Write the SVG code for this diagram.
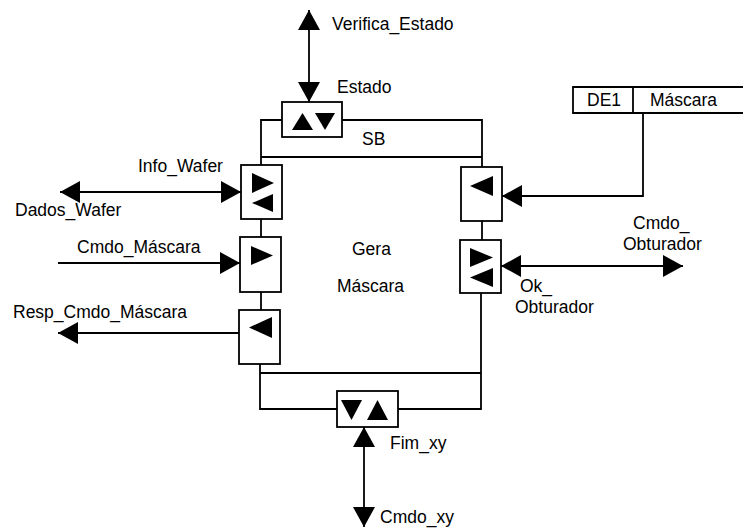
<svg xmlns="http://www.w3.org/2000/svg" width="743" height="529" viewBox="0 0 743 529">
<style>
  .ln{fill:none;stroke:#000;stroke-width:1.8}
  .bx{fill:#fff;stroke:#000;stroke-width:1.8}
  .tri{fill:#000}
  text{font-family:"Liberation Sans",Arial,sans-serif;font-size:17.5px;fill:#000}
</style>
<defs>
  <marker id="ah" viewBox="0 0 20 22" refX="20" refY="11" markerWidth="20" markerHeight="22" markerUnits="userSpaceOnUse" orient="auto-start-reverse">
    <path d="M0,0 L20,11 L0,22 z" fill="#000"/>
  </marker>
</defs>
<rect width="743" height="529" fill="#fff"/>

<g id="connectors">
  <polyline class="ln" points="261,165 261,120 282,120"/>
  <polyline class="ln" points="342,120 482,120 482,167"/>
  <line class="ln" x1="261" y1="157" x2="482" y2="157"/>
  <line class="ln" x1="261" y1="219" x2="261" y2="237"/>
  <line class="ln" x1="261" y1="292" x2="261" y2="310"/>
  <polyline class="ln" points="260,364 260,409 337,409"/>
  <line class="ln" x1="260" y1="373" x2="481" y2="373"/>
  <line class="ln" x1="482" y1="221" x2="482" y2="240"/>
  <polyline class="ln" points="481,293 481,409 398,409"/>
  <line class="ln" x1="309" y1="10" x2="309" y2="102" marker-start="url(#ah)" marker-end="url(#ah)"/>
  <line class="ln" x1="60" y1="192" x2="241" y2="192" marker-start="url(#ah)" marker-end="url(#ah)"/>
  <line class="ln" x1="58" y1="263" x2="240" y2="263" marker-end="url(#ah)"/>
  <line class="ln" x1="239" y1="333" x2="58" y2="333" marker-end="url(#ah)"/>
  <polyline class="ln" points="643,113 643,196 502,196" marker-end="url(#ah)"/>
  <line class="ln" x1="501" y1="266" x2="683" y2="266" marker-start="url(#ah)" marker-end="url(#ah)"/>
  <line class="ln" x1="364" y1="427" x2="364" y2="527" marker-start="url(#ah)" marker-end="url(#ah)"/>
</g>

<g id="gera-mascara">
  <text x="362" y="145">SB</text>
  <text x="352" y="255">Gera</text>
  <text x="337" y="292">Máscara</text>
</g>

<g id="estado">
  <rect class="bx" x="282" y="102" width="60" height="35"/>
  <polygon class="tri" points="292,130 302.5,113 313,130"/>
  <polygon class="tri" points="315,113 335,113 325,130"/>
  <text x="337" y="93">Estado</text>
</g>

<g id="info-wafer">
  <rect class="bx" x="241" y="165" width="41" height="54"/>
  <polygon class="tri" points="252,173 274,183 252,193"/>
  <polygon class="tri" points="273,194 252,203 273,212"/>
  <text x="138" y="172">Info_Wafer</text>
</g>

<g id="cmdo-mascara">
  <rect class="bx" x="240" y="237" width="41" height="55"/>
  <polygon class="tri" points="251,246 273,255.5 251,265"/>
  <text x="77" y="253">Cmdo_Máscara</text>
</g>

<g id="resp-cmdo-mascara">
  <rect class="bx" x="239" y="310" width="41" height="54"/>
  <polygon class="tri" points="272,317 249,327.5 272,338"/>
  <text x="13" y="318">Resp_Cmdo_Máscara</text>
</g>

<g id="mascara-in">
  <rect class="bx" x="461" y="167" width="41" height="54"/>
  <polygon class="tri" points="493,176 470,186 493,196"/>
</g>

<g id="obturador">
  <rect class="bx" x="460" y="240" width="41" height="53"/>
  <polygon class="tri" points="470,248 493,257.5 470,267"/>
  <polygon class="tri" points="493,268 470,277.5 493,287"/>
  <text x="520" y="292">Ok_</text>
  <text x="515" y="313">Obturador</text>
  <text x="633" y="229">Cmdo_</text>
  <text x="623" y="250">Obturador</text>
</g>

<g id="fim-xy">
  <rect class="bx" x="337" y="391" width="61" height="36"/>
  <polygon class="tri" points="341,400 362,400 351.5,420"/>
  <polygon class="tri" points="367,420 388,420 377.5,400"/>
  <text x="390" y="449">Fim_xy</text>
</g>

<g id="de1-mascara">
  <polyline class="ln" points="743,87 573,87 573,113 743,113"/>
  <line class="ln" x1="633" y1="87" x2="633" y2="113"/>
  <text x="587" y="106">DE1</text>
  <text x="650" y="106">Máscara</text>
</g>

<g id="external-labels">
  <text x="332" y="30">Verifica_Estado</text>
  <text x="15" y="216">Dados_Wafer</text>
  <text x="380" y="523">Cmdo_xy</text>
</g>
</svg>
